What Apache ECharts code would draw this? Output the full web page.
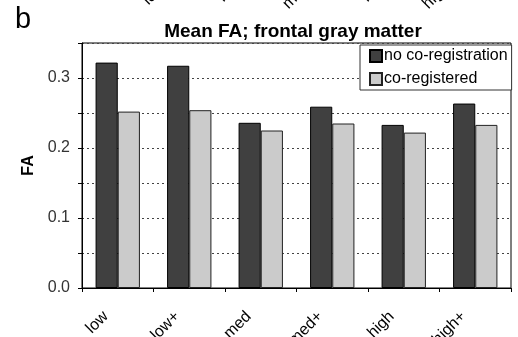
<!DOCTYPE html>
<html>
<head>
<meta charset="utf-8">
<script src="https://cdn.jsdelivr.net/npm/echarts@6/dist/echarts.min.js"></script>
<style>html,body{margin:0;padding:0;background:#fff;}#c{width:518px;height:337px;}</style>
</head>
<body>
<div id="c"></div>
<script>
var categories = ['low', 'low+', 'med', 'med+', 'high', 'high+'];
var noCoreg = [0.322, 0.3175, 0.236, 0.259, 0.233, 0.2635];
var coreg = [0.252, 0.254, 0.225, 0.235, 0.222, 0.233];
var seriesNames = ['no co-registration', 'co-registered'];
var yTickLabels = ['0.0', '0.1', '0.2', '0.3'];
var prevPanelLabels = ['low', 'low+', 'med', 'med+', 'high'];

var chart = echarts.init(document.getElementById('c'), null, {renderer: 'canvas'});
var font = 'Liberation Sans, Arial, sans-serif';
var prevPos = [[151, 8], [226, 5], [291, 12], [370, 5], [431, 12]];
var graphics = [{
  type: 'text', left: 15, top: 5,
  style: {text: 'b', font: '29px ' + font, fill: '#000'}
}];
prevPanelLabels.forEach(function (t, i) {
  graphics.push({
    type: 'text', x: prevPos[i][0], y: prevPos[i][1], rotation: Math.PI / 4,
    style: {text: t, font: '16px ' + font, fill: '#000', align: 'left', verticalAlign: 'bottom'}
  });
});

chart.setOption({
  animation: false,
  backgroundColor: '#fff',
  textStyle: {fontFamily: font},
  title: {
    text: 'Mean FA; frontal gray matter',
    left: 288, top: 17, textAlign: 'center',
    textStyle: {fontSize: 19, fontWeight: 'bold', color: '#000', fontFamily: font}
  },
  graphic: graphics,
  legend: {
    orient: 'vertical',
    left: 360, top: 45,
    backgroundColor: '#fff',
    borderColor: '#333', borderWidth: 1,
    padding: [3, 4, 3, 9],
    itemWidth: 12, itemHeight: 12, itemGap: 7,
    icon: 'rect',
    textStyle: {fontSize: 16, color: '#000', fontFamily: font, padding: [0, 0, 0, -3]},
    data: seriesNames
  },
  grid: {
    left: 82, right: 7, top: 43, bottom: 49,
    containLabel: false, outerBoundsMode: 'none',
    show: true, borderColor: '#000', borderWidth: 1, backgroundColor: 'transparent'
  },
  xAxis: {
    type: 'category',
    data: categories,
    axisLine: {lineStyle: {color: '#000', width: 1}},
    axisTick: {show: true, length: 4, lineStyle: {color: '#000'}, alignWithLabel: false},
    axisLabel: {rotate: 45, fontSize: 16, color: '#000', margin: 14, padding: [0, 17, 0, 0], fontFamily: font},
    splitLine: {show: false}
  },
  yAxis: {
    type: 'value',
    min: 0, max: 0.35, interval: 0.05,
    name: 'FA', nameLocation: 'middle', nameGap: 43, nameRotate: 90,
    nameTextStyle: {fontSize: 16, fontWeight: 'bold', color: '#000', fontFamily: font},
    axisLine: {show: true, lineStyle: {color: '#000', width: 1}},
    axisTick: {show: true, length: 4, lineStyle: {color: '#000'}},
    axisLabel: {
      fontSize: 16, color: '#333', margin: 12, fontFamily: font,
      formatter: function (v) {
        var k = Math.round(v * 20);
        if (k % 2 !== 0) return '';
        return yTickLabels[k / 2] || '';
      }
    },
    splitLine: {show: true, lineStyle: {color: '#444', type: [2, 3], width: 1}}
  },
  series: [{
    name: seriesNames[0], type: 'bar', data: noCoreg,
    barGap: '0%', barCategoryGap: '38%',
    itemStyle: {color: '#404040', borderColor: '#000', borderWidth: 1}
  }, {
    name: seriesNames[1], type: 'bar', data: coreg,
    barGap: '0%', barCategoryGap: '38%',
    itemStyle: {color: '#cbcbcb', borderColor: '#222', borderWidth: 1}
  }]
});
</script>
</body>
</html>
